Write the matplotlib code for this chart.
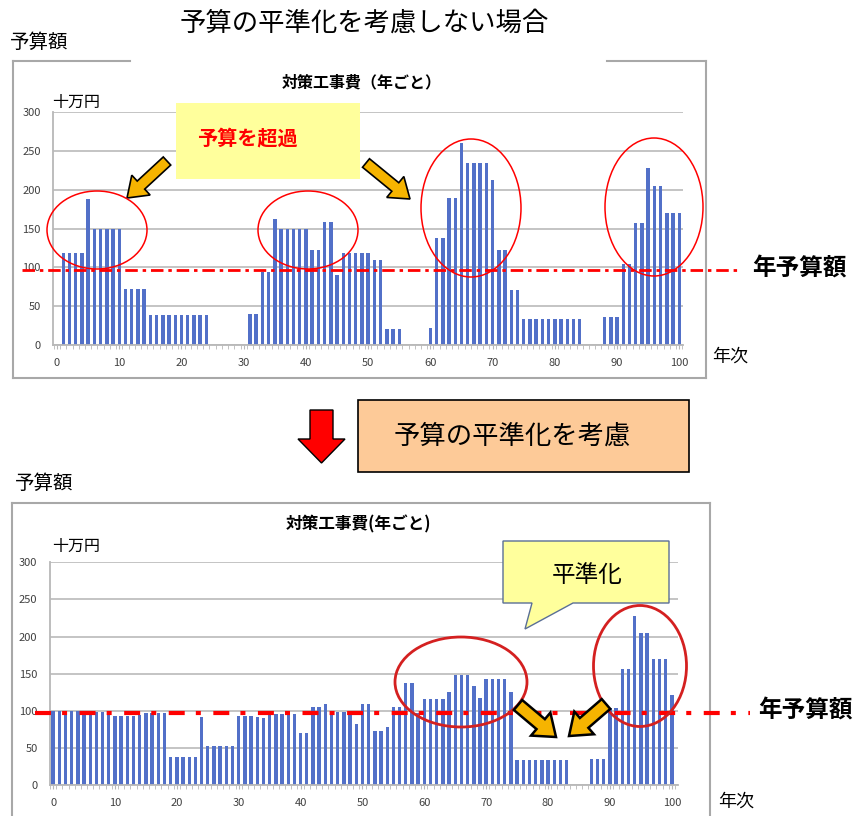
import matplotlib
matplotlib.use("Agg")
import matplotlib.pyplot as plt
from matplotlib.patches import Rectangle, Ellipse, Polygon
from matplotlib.lines import Line2D
import numpy as np

plt.rcParams['font.family'] = ['Noto Sans CJK JP', 'DejaVu Sans']
plt.rcParams['lines.scale_dashes'] = False

# ------------------------------------------------------------
# データ（単位：十万円）
# ------------------------------------------------------------
years_before = list(range(1, 101))
cost_before = ([118] * 4 + [188] + [150] * 5 + [72] * 4 + [39] * 10 + [0] * 6 +
               [40] * 2 + [94] * 2 + [162] + [149] * 5 + [123] * 2 + [159] * 2 + [90] +
               [118] * 5 + [109] * 2 + [21] * 3 + [0] * 4 +
               [22] + [138] * 2 + [190] * 2 + [260] + [234] * 4 + [213] + [123] * 2 +
               [71] * 2 + [34] * 10 + [0] * 3 +
               [36] * 3 + [104] * 2 + [157] * 2 + [228] + [205] * 2 + [170] * 3)

years_after = list(range(0, 101))
cost_after = ([100] * 5 + [98] * 2 + [99] * 2 + [96] + [93] * 4 + [94] + [97] * 4 +
              [38] * 5 + [92] + [53] * 5 + [93] * 3 + [92] + [90] + [95] + [96] * 4 +
              [71] * 2 + [106] * 2 + [109] + [98] * 3 + [96] + [83] + [109] * 2 +
              [73] * 2 + [78] + [106] * 2 + [137] * 2 + [97] + [116] * 4 + [125] +
              [149] * 3 + [134] + [117] + [143] * 4 + [125] + [34] * 9 + [0] * 3 +
              [36] * 3 + [104] * 2 + [157] * 2 + [228] + [205] * 2 + [170] * 3 + [122])

annual_budget = 97
y_ticks = [0, 50, 100, 150, 200, 250, 300]
x_ticks = [0, 10, 20, 30, 40, 50, 60, 70, 80, 90, 100]

W, H = 857, 816
BAR_COLOR = '#5270c8'
GOLD = '#f6b400'

fig = plt.figure(figsize=(W / 100, H / 100), dpi=100)
fig.patch.set_facecolor('white')


def px_axes(z):
    a = fig.add_axes([0, 0, 1, 1], zorder=z)
    a.set_xlim(0, W)
    a.set_ylim(H, 0)
    a.axis('off')
    a.patch.set_alpha(0)
    return a


bg = px_axes(0)
fg = px_axes(5)


def chart_axes(left, right, top, bottom):
    return fig.add_axes([left / W, 1 - bottom / H, (right - left) / W, (bottom - top) / H], zorder=2)


def style_chart(ax, xs, ys, xlim):
    ax.bar(xs, ys, width=0.55, color=BAR_COLOR, zorder=2)
    ax.set_ylim(0, 300)
    ax.set_xlim(*xlim)
    ax.set_yticks(y_ticks)
    ax.set_xticks(x_ticks)
    ax.set_xticks(np.arange(-0.5, 101, 1), minor=True)
    ax.yaxis.grid(True, color='#c4c4c4', lw=1.4)
    ax.set_axisbelow(True)
    for s in ['top', 'right']:
        ax.spines[s].set_visible(False)
    for s in ['left', 'bottom']:
        ax.spines[s].set_color('#b8b8b8')
        ax.spines[s].set_linewidth(1.3)
    ax.tick_params(axis='y', length=0, pad=9, labelsize=8, labelcolor='#404040')
    ax.tick_params(axis='x', which='major', length=3, pad=6, labelsize=8,
                   labelcolor='#404040', color='#b8b8b8')
    ax.tick_params(axis='x', which='minor', length=3, color='#b8b8b8')
    ax.patch.set_alpha(0)


def frame(x0, x1, y0, y1, gap=None):
    kw = dict(color='#a8a8a8', lw=1.5)
    bg.add_line(Line2D([x0, x0], [y0, y1], **kw))
    bg.add_line(Line2D([x1, x1], [y0, y1], **kw))
    bg.add_line(Line2D([x0, x1], [y1, y1], **kw))
    if gap:
        bg.add_line(Line2D([x0, gap[0]], [y0, y0], **kw))
        bg.add_line(Line2D([gap[1], x1], [y0, y0], **kw))
    else:
        bg.add_line(Line2D([x0, x1], [y0, y0], **kw))


def fat_arrow(x0, y0, x1, y1, w, hw, hl, fc, lw=1.2):
    d = np.array([x1 - x0, y1 - y0], float)
    L = np.hypot(*d)
    u = d / L
    n = np.array([-u[1], u[0]])
    p0 = np.array([x0, y0], float)
    b = p0 + u * (L - hl)
    pts = [p0 + n * w / 2, b + n * w / 2, b + n * hw / 2, np.array([x1, y1]),
           b - n * hw / 2, b - n * w / 2, p0 - n * w / 2]
    fg.add_patch(Polygon(pts, closed=True, fc=fc, ec='black', lw=lw, joinstyle='miter'))


# ------------------------------------------------------------
# 上段：平準化なし
# ------------------------------------------------------------
fig.text(364 / W, 1 - 23 / H, '予算の平準化を考慮しない場合', ha='center', va='center', fontsize=19)
fig.text(10 / W, 1 - 42 / H, '予算額', ha='left', va='center', fontsize=14)
frame(13, 706, 61, 378, gap=(130, 607))

ax1 = chart_axes(53.3, 683, 112.3, 345)
style_chart(ax1, years_before, cost_before, (-0.6, 100.6))
ax1.plot([-5.6, 109.5], [annual_budget, annual_budget], color='red', lw=2.0,
         ls=(0, (9, 3.5, 2.5, 3.5)), clip_on=False, zorder=4)

fg.text(362, 82, '対策工事費（年ごと）', ha='center', va='center', fontsize=11.5, fontweight='bold')
fg.text(52, 102, '十万円', ha='left', va='center', fontsize=11.5)
fg.text(712, 357, '年次', ha='left', va='center', fontsize=13)
fg.text(752, 268, '年予算額', ha='left', va='center', fontsize=17, fontweight='bold')

fg.add_patch(Rectangle((176, 103), 184, 76, fc='#ffff9c', ec='none'))
fg.text(197, 138, '予算を超過', ha='left', va='center', fontsize=14.5, fontweight='bold', color='red')
fat_arrow(167, 161, 127, 198, 11, 27, 19, GOLD)
fat_arrow(366, 163, 410, 199, 11, 27, 19, GOLD)

for cx, cy, ew, eh in [(97, 230, 100, 78), (308, 230, 100, 78), (471, 208, 100, 138), (654, 207, 98, 138)]:
    fg.add_patch(Ellipse((cx, cy), ew, eh, fc='none', ec='red', lw=1.1))

# ------------------------------------------------------------
# 中段：矢印と見出し
# ------------------------------------------------------------
fg.add_patch(Polygon([(310, 410), (333, 410), (333, 439), (345, 439), (321.5, 463), (298, 439), (310, 439)],
                     closed=True, fc='#ff0000', ec='black', lw=1))
fg.add_patch(Rectangle((358, 400), 331, 72, fc='#fdca98', ec='black', lw=1.2))
fg.text(512, 436, '予算の平準化を考慮', ha='center', va='center', fontsize=19)

# ------------------------------------------------------------
# 下段：平準化あり
# ------------------------------------------------------------
fig.text(15 / W, 1 - 483 / H, '予算額', ha='left', va='center', fontsize=14)
frame(12, 710, 503, 830)

ax2 = chart_axes(50, 678, 562.3, 785.3)
style_chart(ax2, years_after, cost_after, (-0.44, 101.0))
ax2.plot([-2.9, 112.6], [annual_budget, annual_budget], color='red', lw=3.0,
         ls=(0, (11.5, 8, 3.6, 9)), clip_on=False, zorder=4)

fg.text(358, 524, '対策工事費(年ごと)', ha='center', va='center', fontsize=12, fontweight='bold')
fg.text(52, 546, '十万円', ha='left', va='center', fontsize=11.5)
fg.text(718, 802, '年次', ha='left', va='center', fontsize=13)
fg.text(758, 710, '年予算額', ha='left', va='center', fontsize=17, fontweight='bold')

fg.add_patch(Polygon([(503, 541), (669, 541), (669, 603), (573, 603), (525, 629), (532, 603), (503, 603)],
                     closed=True, fc='#ffff9c', ec='#5a6f96', lw=1))
fg.text(587, 576, '平準化', ha='center', va='center', fontsize=17)

for cx, cy, ew, eh in [(461, 682, 132, 90), (640, 666, 93, 121)]:
    fg.add_patch(Ellipse((cx, cy), ew, eh, fc='none', ec='#d42020', lw=2))

fat_arrow(518, 705, 556, 737, 13, 30, 20, GOLD, lw=1.8)
fat_arrow(606, 704, 569, 736, 13, 30, 20, GOLD, lw=1.8)

fig.savefig('out.png', dpi=100, facecolor='white')
